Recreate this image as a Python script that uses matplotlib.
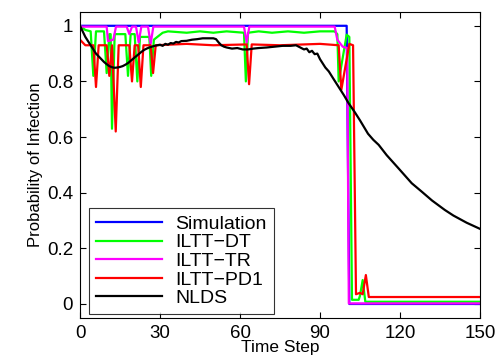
import matplotlib
matplotlib.use("Agg")
import matplotlib.pyplot as plt

plt.rcParams['font.family'] = ['Liberation Sans', 'DejaVu Sans']

# Simulation
sim_t = [0, 100, 101, 150]
sim_p = [1.0, 1.0, 0.0, 0.0]

# ILTT-DT
dt_t = [0, 2, 4, 5, 6, 9, 10, 11, 11.5, 12, 13, 17, 18, 19, 20.5, 21.5, 22.5, 26, 26.7, 27.7,
        29, 31, 33, 40, 45, 50, 55, 61.5, 62.2, 63, 67, 72, 78, 84, 90, 95.5, 96.5, 97, 100, 101,
        102, 104.5, 105, 106, 107, 150]
dt_p = [1.0, 0.985, 0.98, 0.82, 0.98, 0.98, 0.83, 0.97, 0.97, 0.63, 0.97, 0.97, 0.82, 0.97, 0.97, 0.80, 0.96, 0.96, 0.82, 0.95,
        0.96, 0.975, 0.98, 0.975, 0.98, 0.975, 0.98, 0.975, 0.80, 0.975, 0.98, 0.975, 0.98, 0.975, 0.98, 0.98, 0.97, 0.80, 0.968, 0.96,
        0.015, 0.015, 0.03, 0.086, 0.008, 0.008]

# ILTT-TR
tr_t = [0, 10, 10.5, 12.5, 13.5, 17.5, 18.5, 19.5, 21, 22, 23, 25.5, 26.5, 27.5, 61.5, 62.5, 63.5,
        95.5, 96.5, 98.5, 100.2, 100.8, 150]
tr_p = [0.997, 0.997, 0.945, 0.95, 0.997, 0.997, 0.97, 0.997, 0.997, 0.94, 0.997, 0.997, 0.935, 0.997, 0.997, 0.94, 0.997,
        0.997, 0.95, 0.925, 0.92, 0.002, 0.002]

# ILTT-PD1
pd_t = [0, 1, 2, 5, 6, 7, 10, 11, 12, 13.4, 14.5, 18.5, 19.5, 20.5, 21.8, 22.8, 23.8, 26.5, 27.4, 28.4,
        40, 50, 62.5, 63.4, 64.4, 75, 90, 97, 98, 101, 102.4, 103.5, 105, 106, 107.2, 108.3, 150]
pd_p = [0.95, 0.94, 0.93, 0.93, 0.78, 0.93, 0.93, 0.82, 0.93, 0.62, 0.93, 0.93, 0.80, 0.93, 0.93, 0.78, 0.93, 0.93, 0.83, 0.93,
        0.935, 0.93, 0.933, 0.79, 0.933, 0.93, 0.935, 0.93, 0.77, 0.935, 0.93, 0.035, 0.04, 0.035, 0.104, 0.025, 0.025]

# NLDS
nl_t = [0, 1, 2, 3, 4, 5, 6, 7, 8, 9, 10, 11, 12, 13, 14, 15, 16, 17, 18, 19, 20, 21, 22, 23, 24, 25,
        26, 27, 28, 29, 30, 31, 32, 33, 34, 35, 36, 37, 38, 40, 42, 44, 46, 48, 50, 51, 52, 53, 54, 55,
        57, 59, 61, 63, 65, 67, 70, 73, 76, 79, 81, 82, 84, 85, 86, 87, 88, 89, 90, 92, 93.3, 95, 97, 99,
        100.7, 103, 105, 108, 110, 112, 115, 119.4, 124.4, 128, 132, 136.8, 140, 145, 150]
nl_p = [1.0, 0.98, 0.96, 0.945, 0.93, 0.915, 0.90, 0.89, 0.88, 0.87, 0.862, 0.855, 0.851, 0.849, 0.85, 0.852, 0.855, 0.86,
        0.866, 0.874, 0.882, 0.89, 0.898, 0.906, 0.913, 0.918, 0.922, 0.925, 0.928, 0.93, 0.932, 0.928, 0.935, 0.932, 0.938,
        0.936, 0.942, 0.94, 0.945, 0.946, 0.95, 0.952, 0.955, 0.955, 0.955, 0.952, 0.94, 0.93, 0.925, 0.922, 0.918, 0.92,
        0.915, 0.915, 0.918, 0.92, 0.922, 0.925, 0.928, 0.928, 0.93, 0.925, 0.915, 0.918, 0.905, 0.91, 0.898, 0.90, 0.88,
        0.85, 0.836, 0.81, 0.78, 0.75, 0.722, 0.69, 0.66, 0.612, 0.59, 0.572, 0.535, 0.488, 0.434, 0.405, 0.372, 0.338,
        0.318, 0.292, 0.27]

labels = ['Simulation', 'ILTT\u2212DT', 'ILTT\u2212TR', 'ILTT\u2212PD1', 'NLDS']
colors = ['#0000ff', '#00ff00', '#ff00ff', '#ff0000', '#000000']

fig = plt.figure(figsize=(5, 3.6), dpi=100)
ax = fig.add_axes([0.16, 0.117, 0.80, 0.85])

series = [(sim_t, sim_p), (dt_t, dt_p), (tr_t, tr_p), (pd_t, pd_p), (nl_t, nl_p)]
for (t, p), lab, c in zip(series, labels, colors):
    ax.plot(t, p, color=c, lw=1.6, label=lab)

ax.set_xlim(0, 150)
ax.set_ylim(-0.05, 1.05)
ax.set_xticks([0, 30, 60, 90, 120, 150])
ax.set_yticks([0, 0.2, 0.4, 0.6, 0.8, 1.0])
ax.set_yticklabels(['0', '0.2', '0.4', '0.6', '0.8', '1'])
ax.tick_params(direction='in', top=True, right=True, labelsize=13.5, length=4, width=0.8, pad=5)
for s in ax.spines.values():
    s.set_linewidth(0.8)

ax.set_xlabel('Time Step', fontsize=12.5, labelpad=-1)
ax.set_ylabel('Probability of Infection', fontsize=12, labelpad=3)

leg = ax.legend(loc='lower left', bbox_to_anchor=(0.0225, 0.013), fontsize=14, frameon=True, fancybox=False,
                edgecolor='black', handlelength=3.4, handletextpad=0.7, borderpad=0.35, labelspacing=0.05,
                borderaxespad=0)
leg.get_frame().set_linewidth(0.8)

fig.savefig('out.png', dpi=100)
